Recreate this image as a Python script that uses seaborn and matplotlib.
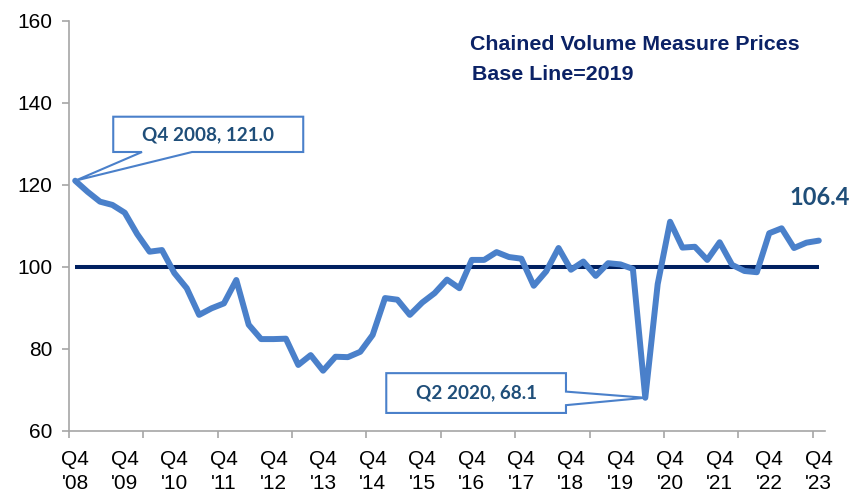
import matplotlib
matplotlib.use("Agg")
import matplotlib.pyplot as plt
from matplotlib.patches import Polygon
import seaborn as sns
import pandas as pd

# ---- data ----
quarter_index = list(range(61))  # Q4 2008 .. Q4 2023
values = [121.0, 118.3, 115.9, 115.1, 113.2, 108.0, 103.7, 104.1, 98.5, 94.8,
          88.3, 89.9, 91.1, 96.8, 85.9, 82.4, 82.4, 82.5, 76.1, 78.5,
          74.7, 78.1, 78.0, 79.3, 83.4, 92.4, 92.0, 88.3, 91.3, 93.6,
          96.9, 94.8, 101.7, 101.7, 103.6, 102.4, 102.0, 95.4, 98.9, 104.6,
          99.3, 101.3, 97.8, 100.9, 100.6, 99.5, 68.1, 95.8, 111.0, 104.7,
          104.9, 101.7, 106.0, 100.5, 99.0, 98.7, 108.2, 109.4, 104.6, 105.9,
          106.4]
baseline_value = 100
tick_labels = ["Q4\n'08", "Q4\n'09", "Q4\n'10", "Q4\n'11", "Q4\n'12", "Q4\n'13",
               "Q4\n'14", "Q4\n'15", "Q4\n'16", "Q4\n'17", "Q4\n'18", "Q4\n'19",
               "Q4\n'20", "Q4\n'21", "Q4\n'22", "Q4\n'23"]
yticks = [60, 80, 100, 120, 140, 160]
title_lines = ["Chained Volume Measure Prices", "Base Line=2019"]
callout1 = ("Q4 2008, 121.0", 0, 121.0)
callout2 = ("Q2 2020, 68.1", 46, 68.1)
end_label = "106.4"

df = pd.DataFrame({"q": quarter_index, "v": values})

sns.set_style("white")
plt.rcParams["font.family"] = ["Liberation Sans", "DejaVu Sans"]

LINE = "#4A80CA"
NAVY = "#0B2266"
DARK = "#1F4E79"
GREY = "#A6A6A6"

fig = plt.figure(figsize=(8.52, 4.98), dpi=100)
ax = fig.add_axes([69/852, 1-431/498, (825-69)/852, (431-20.7)/498])

ax.hlines(baseline_value, quarter_index[0], quarter_index[-1], color="#002060", lw=2.9, zorder=2)
sns.lineplot(data=df, x="q", y="v", ax=ax, color=LINE, lw=4.3, zorder=3)

ax.set_xlim(-0.5, 60.5)
ax.set_ylim(60, 160)
ax.set_yticks(yticks)
ax.set_xticks(quarter_index[::4])
ax.set_xticklabels(tick_labels, linespacing=1.3)
ax.set_xticks([q - 0.5 for q in quarter_index[::6]], minor=True)
ax.set_xlabel("")
ax.set_ylabel("")

for s in ["top", "right"]:
    ax.spines[s].set_visible(False)
for s in ["left", "bottom"]:
    ax.spines[s].set_color(GREY)
    ax.spines[s].set_linewidth(1.2)

ax.tick_params(axis="y", which="major", direction="out", length=5, width=1.2,
               color=GREY, left=True, labelsize=15, pad=7, labelcolor="black")
ax.tick_params(axis="x", which="major", length=0, labelsize=15, pad=14, labelcolor="black")
ax.tick_params(axis="x", which="minor", direction="out", length=5, width=1.2,
               color=GREY, bottom=True)

# callout 1
t, px, py = callout1
x0, x1, yt, yb = 3.07, 18.4, 136.6, 128.0
poly = Polygon([(x0, yt), (x1, yt), (x1, yb), (9.43, yb), (px, py), (5.39, yb), (x0, yb)],
               closed=True, facecolor="white", edgecolor=LINE, lw=1.5, zorder=5)
ax.add_patch(poly)
ax.text((x0 + x1) / 2, (yt + yb) / 2, t, ha="center", va="center", fontsize=13.6,
        fontweight="bold", color=DARK, family=["Lato", "DejaVu Sans"], zorder=6)

# callout 2
t, px, py = callout2
x0, x1, yt, yb = 25.1, 39.6, 74.1, 64.4
poly = Polygon([(x0, yt), (x1, yt), (x1, 69.6), (px, py), (x1, 66.3), (x1, yb), (x0, yb)],
               closed=True, facecolor="white", edgecolor=LINE, lw=1.5, zorder=5)
ax.add_patch(poly)
ax.text((x0 + x1) / 2, (yt + yb) / 2, t, ha="center", va="center", fontsize=13.6,
        fontweight="bold", color=DARK, family=["Lato", "DejaVu Sans"], zorder=6)

# end label
fig.text(820/852, 1-197/498, end_label, ha="center", va="center", fontsize=17,
         fontweight="bold", color=DARK, family=["Lato", "DejaVu Sans"])

fig.text(470/852, 1-45/498, title_lines[0], ha="left", va="center", fontsize=15.4,
         fontweight="bold", color=NAVY)
fig.text(472/852, 1-75/498, title_lines[1], ha="left", va="center", fontsize=15.4,
         fontweight="bold", color=NAVY)

fig.savefig("out.png", dpi=100)
